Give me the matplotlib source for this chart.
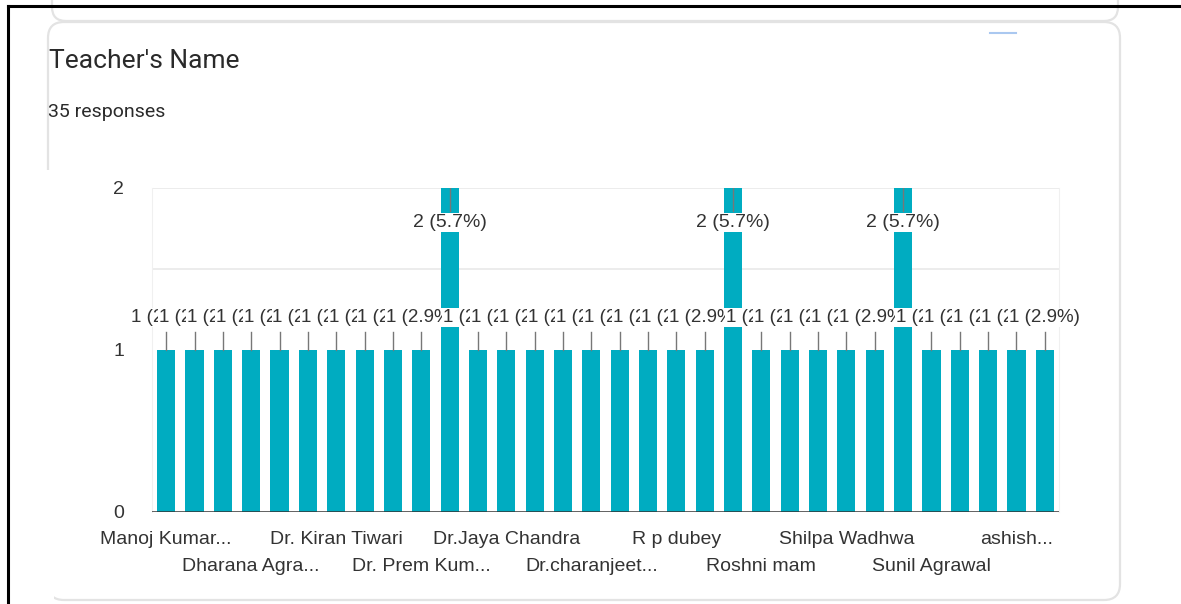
import matplotlib.pyplot as plt
from matplotlib.patches import FancyBboxPatch, Rectangle

# names shown on the axis (Google shows every 3rd one, the rest are hidden)
teachers = [
    "Manoj Kumar...", "", "", "Dharana Agra...", "", "",
    "Dr. Kiran Tiwari", "", "", "Dr. Prem Kum...", "", "",
    "Dr.Jaya Chandra", "", "", "Dr.charanjeet...", "", "",
    "R p dubey", "", "", "Roshni mam", "", "",
    "Shilpa Wadhwa", "", "", "Sunil Agrawal", "", "",
    "ashish...", "",
]
responses = [1, 1, 1, 1, 1, 1, 1, 1, 1, 1, 2, 1, 1, 1, 1, 1,
             1, 1, 1, 1, 2, 1, 1, 1, 1, 1, 2, 1, 1, 1, 1, 1]
total = 35

title = "Teacher's Name"
subtitle = "%d responses" % total

bar_color = "#00acc1"
text_color = "#333333"
W, H = 1181, 604

fig = plt.figure(figsize=(W / 100, H / 100), dpi=100)
fig.patch.set_facecolor("white")

# background layer in pixel coords: card outlines, page border
bg = fig.add_axes([0, 0, 1, 1], zorder=0)
bg.set_xlim(0, W)
bg.set_ylim(H, 0)
bg.axis("off")
bg.add_patch(FancyBboxPatch((52, -40), 1066, 61, boxstyle="round,pad=0,rounding_size=14",
                            fc="white", ec="#e3e3e3", lw=1.6))
bg.add_patch(FancyBboxPatch((48, 22), 1072, 578, boxstyle="round,pad=0,rounding_size=16",
                            fc="white", ec="#e3e3e3", lw=1.6))
bg.add_patch(Rectangle((40, 170), 14, 440, fc="white", ec="none"))
bg.plot([990, 1016], [33, 33], color="#aac8f0", lw=1.5)
bg.plot([8, W], [6, 6], color="black", lw=2.2)
bg.plot([8, 8], [6, H], color="black", lw=2.2)

bg.text(49, 68, title, fontsize=19, family="Roboto", color="#2a2a2a", va="baseline")
bg.text(48, 117, subtitle, fontsize=14, family="Roboto", color="#2a2a2a", va="baseline")

ax = fig.add_axes([152 / W, 92 / H, 907 / W, 324 / H], zorder=1)
ax.patch.set_alpha(0)
x = list(range(len(responses)))
ax.bar(x, responses, width=0.64, color=bar_color, zorder=2)
ax.set_xlim(-0.5, len(responses) - 0.5)
ax.set_ylim(0, 2)

for y in [1.5, 2]:
    ax.axhline(y, color="#ebebeb", lw=1.3, zorder=0)
ax.axhline(0, color="#333333", lw=1.8, zorder=3)

for s in ["top", "bottom"]:
    ax.spines[s].set_visible(False)
for s in ["left", "right"]:
    ax.spines[s].set_color("#f0f0f0")

ax.set_yticks([0, 1, 2])
ax.set_yticklabels(["0", "1", "2"], fontsize=14, family="Liberation Sans", color=text_color)
ax.tick_params(axis="y", length=0, pad=20)

ticks = [i for i, n in enumerate(teachers) if n]
labels = []
for k, i in enumerate(ticks):
    labels.append(teachers[i] if k % 2 == 0 else "\n" + teachers[i])
ax.set_xticks(ticks)
ax.set_xticklabels(labels, fontsize=14, family="Liberation Sans", color=text_color,
                   linespacing=1.7)
ax.tick_params(axis="x", length=0, pad=14)

# data labels with stems, drawn left to right so they overlap like the original
for i, v in enumerate(responses):
    txt = "%d (%.1f%%)" % (v, v * 100.0 / total)
    if v == 1:
        ax.plot([i, i], [1.0, 1.11], color="#777777", lw=1, zorder=4)
        ty = 1.2
        fs = 13.5
    else:
        ax.plot([i, i], [2.0, 1.86], color="#777777", lw=1, zorder=4)
        ty = 1.785
        fs = 14
    ax.text(i, ty, txt, ha="center", va="center", fontsize=fs, family="Liberation Sans",
            color=text_color, zorder=5,
            bbox=dict(boxstyle="square,pad=0.05", fc="white", ec="none"))

fig.savefig("out.png", dpi=100)
